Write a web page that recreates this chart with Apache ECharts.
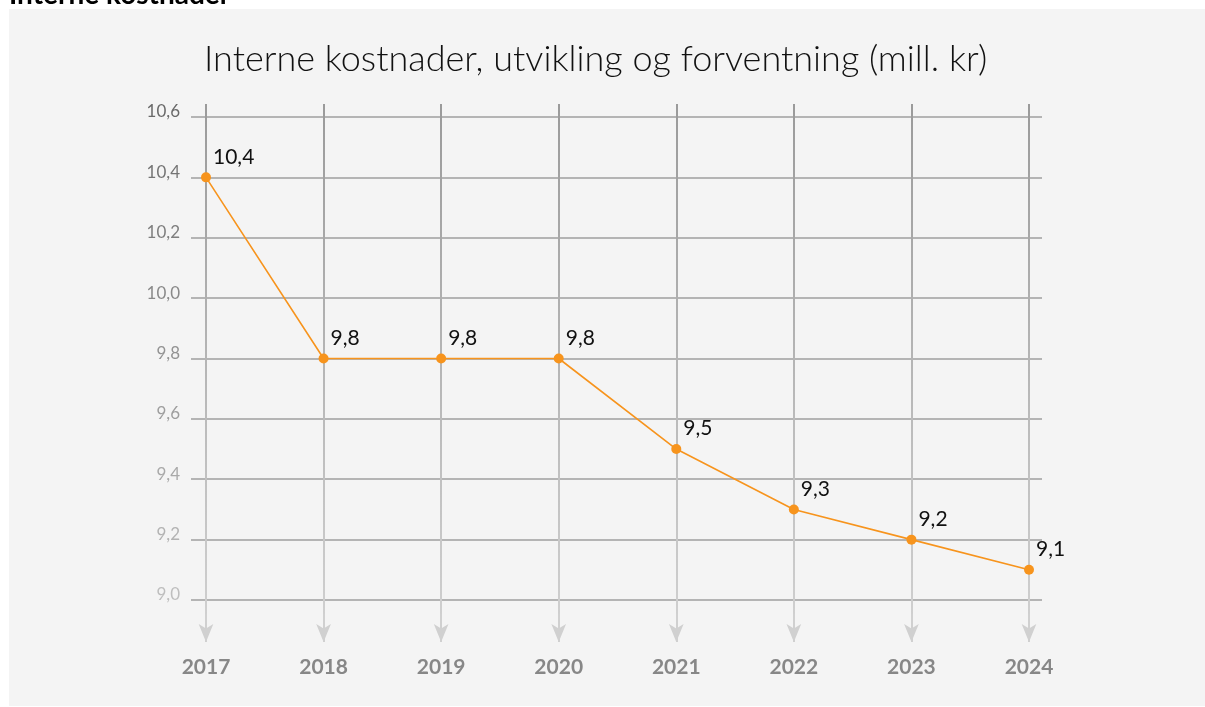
<!DOCTYPE html>
<html lang="no">
<head>
    <meta charset="UTF-8">
    <title>Interne kostnader</title>
    <style>
        html, body { margin: 0; padding: 0; background: #fff; }
        #chart { width: 1205px; height: 707px; }
    </style>
    <script src="https://cdn.jsdelivr.net/npm/echarts@6/dist/echarts.min.js"></script>
</head>
<body>
<div id="chart"></div>
<script>
    // data
    var years = ["2017", "2018", "2019", "2020", "2021", "2022", "2023", "2024"];
    var costs = [10.4, 9.8, 9.8, 9.8, 9.5, 9.3, 9.2, 9.1];
    var yMin = 9.0, yMax = 10.6, yStep = 0.2;

    var fmt = function (v) { return v.toFixed(1).replace(".", ","); };

    // arrowheads below the 9,0 line, one per year
    var vTop = yMax + 13 / 302, vBot = yMin - 42 / 302;
    var arrows = years.map(function (y) {
        return [{ coord: [y, yMin - 14 / 302] }, { coord: [y, vBot] }];
    });

    var chart = echarts.init(document.getElementById("chart"));
    var option = {
        animation: false,
        graphic: [
            { type: "rect", z: -10, shape: { x: 9, y: 9, width: 1196, height: 697 }, style: { fill: "#f4f4f4" } },
            { type: "text", left: 9, top: -19, style: { text: "Interne kostnader", font: "bold 28px Lato", fill: "#000" } }
        ],
        title: {
            text: "Interne kostnader, utvikling og forventning (mill. kr)",
            left: 199, top: 36,
            textStyle: { fontFamily: "Lato", fontWeight: 300, fontSize: 36, color: "#111" }
        },
        grid: [
            { left: 191, right: 163, top: 117, bottom: 107 },
            { left: 206, right: 176, top: 104, bottom: 65 }
        ],
        xAxis: [
            { gridIndex: 0, type: "category", data: years, show: false },
            {
                gridIndex: 1, type: "category", data: years, boundaryGap: false,
                axisLine: { show: false }, axisTick: { show: false },
                splitLine: {
                    show: true,
                    lineStyle: {
                        width: 2,
                        color: { type: "linear", x: 0, y: 0, x2: 0, y2: 1,
                            colorStops: [{ offset: 0, color: "#9a9a9a" }, { offset: 1, color: "#d2d2d2" }] }
                    }
                },
                axisLabel: { margin: 15, fontFamily: "Lato", fontWeight: "bold", fontSize: 21, color: "#878787" }
            }
        ],
        yAxis: [
            {
                gridIndex: 0, type: "value", min: yMin, max: yMax, interval: yStep,
                axisLine: { show: false }, axisTick: { show: false },
                splitLine: { lineStyle: { color: "#b4b4b4", width: 2 } },
                axisLabel: {
                    margin: 11, fontFamily: "Lato", fontSize: 17,
                    verticalAlign: "bottom", lineHeight: 10,
                    formatter: fmt,
                    color: function (v, i) {
                        var t = (v - yMin) / (yMax - yMin);
                        var c = Math.round(190 - t * 85);
                        return "rgb(" + c + "," + c + "," + c + ")";
                    }
                }
            },
            { gridIndex: 1, type: "value", min: vBot, max: vTop, show: false, splitLine: { show: false } }
        ],
        series: [{
            type: "line",
            xAxisIndex: 1, yAxisIndex: 1,
            data: costs,
            color: "#f7941d",
            lineStyle: { width: 1.6 },
            symbol: "circle", symbolSize: 10,
            label: {
                show: true, position: [12, -26], fontFamily: "Lato", fontSize: 21, color: "#111",
                formatter: function (p) { return fmt(p.value); }
            },
            markLine: {
                silent: true, z: 1,
                symbol: ["none", "arrow"], symbolSize: [11, 18],
                label: { show: false },
                lineStyle: { type: "solid", width: 2, color: "#d0d0d0" },
                data: arrows
            }
        }]
    };
    chart.setOption(option);
</script>
</body>
</html>
